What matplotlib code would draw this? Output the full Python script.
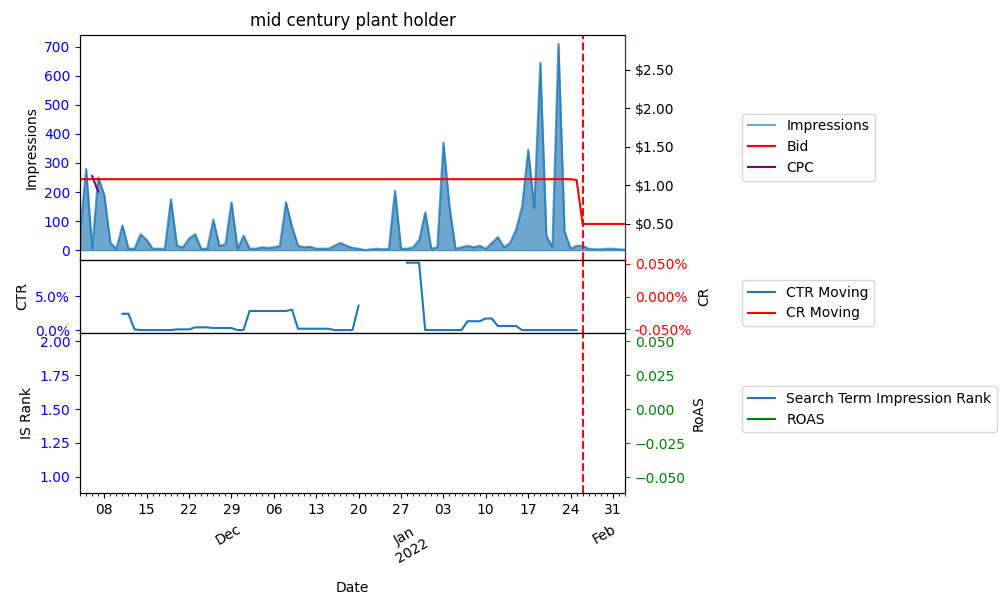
import numpy as np
import pandas as pd
import matplotlib
matplotlib.use("Agg")
from matplotlib import pyplot as plt
import matplotlib.dates as mdates
import matplotlib.ticker as mticker
import matplotlib.transforms as mtrans

start = "2021-11-04"
impressions = [60, 280, 5, 250, 190, 25, 5, 85, 5, 5, 55, 35, 5, 5, 5, 175, 15, 10, 40, 55,
               5, 5, 105, 15, 20, 165, 5, 50, 5, 5, 10, 8, 10, 15, 165, 80, 15, 10, 12, 5,
               5, 5, 15, 25, 15, 8, 5, 0, 3, 5, 3, 5, 205, 5, 5, 10, 35, 130, 5, 10,
               370, 150, 5, 10, 15, 10, 15, 5, 25, 45, 10, 25, 70, 150, 345, 145, 645, 50, 10, 710,
               65, 5, 15, 15, 5, 3, 3, 5, 5, 3, 2]
dates = pd.date_range(start, periods=len(impressions), freq="D")

bid = [1.08] * 82 + [1.07, 0.5] + [0.5] * (len(impressions) - 84)
cpc = [np.nan] * len(impressions)
cpc[2], cpc[3] = 1.12, 0.92

ctr = [np.nan] * 7 + [2.4, 2.4, 0.1, 0, 0, 0, 0, 0, 0, 0.1, 0.1, 0.1, 0.4, 0.4, 0.4, 0.3, 0.3,
       0.3, 0.3, 0, 0, 2.8, 2.8, 2.8, 2.8, 2.8, 2.8, 2.8, 3.0, 0.2, 0.2, 0.2, 0.2, 0.2, 0.2,
       0, 0, 0, 0, 3.6] + [np.nan] * 7 + [9.9, 9.9, 9.9, 0, 0, 0, 0, 0, 0, 0, 1.3, 1.3, 1.3,
       1.7, 1.7, 0.6, 0.6, 0.6, 0.6, 0, 0, 0, 0, 0, 0, 0, 0, 0, 0]
ctr = ctr + [np.nan] * (len(impressions) - len(ctr))
cutoff = pd.Timestamp("2022-01-26")

fig = plt.figure(figsize=(10, 6), dpi=100)
gs = fig.add_gridspec(3, 1, height_ratios=[225, 73, 160], hspace=0,
                      left=0.08, right=0.625, top=0.942, bottom=0.178)
ax1 = fig.add_subplot(gs[0])
ax2 = fig.add_subplot(gs[1], sharex=ax1)
ax3 = fig.add_subplot(gs[2], sharex=ax1)

# impressions + bid/cpc
ax1.fill_between(dates, impressions, color="tab:blue", alpha=0.65)
ax1.plot(dates, impressions, color="tab:blue", alpha=0.65, label="Impressions")
ax1.set_ylim(-34, 741)
ax1.set_ylabel("Impressions")
ax1.tick_params(axis="y", colors="blue")
ax1.yaxis.label.set_color("black")
ax1.set_title("mid century plant holder")
r1 = ax1.twinx()
r1.plot(dates, bid, color="red", label="Bid")
r1.plot(dates, cpc, color="purple", label="CPC")
r1.set_ylim(0.033, 2.95)
r1.yaxis.set_major_formatter(mticker.FuncFormatter(lambda v, p: f"${v:.2f}"))
r1.spines["right"].set_color("purple")
h = ax1.get_legend_handles_labels()[0] + r1.get_legend_handles_labels()[0]
fig.legend(h, ["Impressions", "Bid", "CPC"], loc="center left", bbox_to_anchor=(0.735, 0.755))

# ctr / cr
ax2.plot(dates, np.array(ctr) / 100, color="tab:blue", label="CTR Moving")
ax2.set_ylim(-0.0044, 0.103)
ax2.yaxis.set_major_formatter(mticker.PercentFormatter(1.0, decimals=1))
ax2.set_yticks([0, 0.05])
ax2.tick_params(axis="y", colors="blue")
ax2.set_ylabel("CTR")
r2 = ax2.twinx()
r2.plot([], [], color="red", label="CR Moving")
r2.set_ylim(-0.0555, 0.0555)
r2.set_yticks([-0.05, 0, 0.05])
r2.yaxis.set_major_formatter(mticker.FuncFormatter(lambda v, p: f"{v:.3f}%"))
r2.tick_params(axis="y", colors="red")
r2.set_ylabel("CR")
fig.legend([ax2.lines[0], r2.lines[0]], ["CTR Moving", "CR Moving"],
           loc="center left", bbox_to_anchor=(0.735, 0.495))

# rank / roas
ax3.plot([], [], color="tab:blue", label="Search Term Impression Rank")
ax3.set_ylim(0.88, 2.06)
ax3.set_yticks([1.0, 1.25, 1.5, 1.75, 2.0])
ax3.tick_params(axis="y", colors="blue")
ax3.set_ylabel("IS Rank")
r3 = ax3.twinx()
r3.plot([], [], color="green", label="ROAS")
r3.set_ylim(-0.0618, 0.0559)
r3.set_yticks([-0.05, -0.025, 0, 0.025, 0.05])
r3.tick_params(axis="y", colors="green")
r3.set_ylabel("RoAS")
fig.legend([ax3.lines[0], r3.lines[0]], ["Search Term Impression Rank", "ROAS"],
           loc="center left", bbox_to_anchor=(0.735, 0.318))

for ax in (ax1, ax2, ax3):
    ax.axvline(cutoff, color="red", linestyle="--")
for ax in (ax1, ax2):
    plt.setp(ax.get_xticklabels(), visible=False)

ax3.set_xlim(pd.Timestamp("2021-11-04"), pd.Timestamp("2022-02-02"))
ax3.xaxis.set_major_locator(mdates.WeekdayLocator(byweekday=mdates.MO))
ax3.xaxis.set_major_formatter(mdates.DateFormatter("%d"))
ax3.xaxis.set_minor_locator(mdates.DayLocator())
ax3.set_xlabel("Date", labelpad=46)
tr = mtrans.blended_transform_factory(ax3.transData, ax3.transAxes)
for d, s in [("2021-12-01", "Dec"), ("2022-01-01", "Jan\n2022"), ("2022-02-01", "Feb")]:
    ax3.text(pd.Timestamp(d), -0.18, s, transform=tr, rotation=30, ha="right", va="top",
             fontsize=10, multialignment="center")

fig.savefig("out.png")
